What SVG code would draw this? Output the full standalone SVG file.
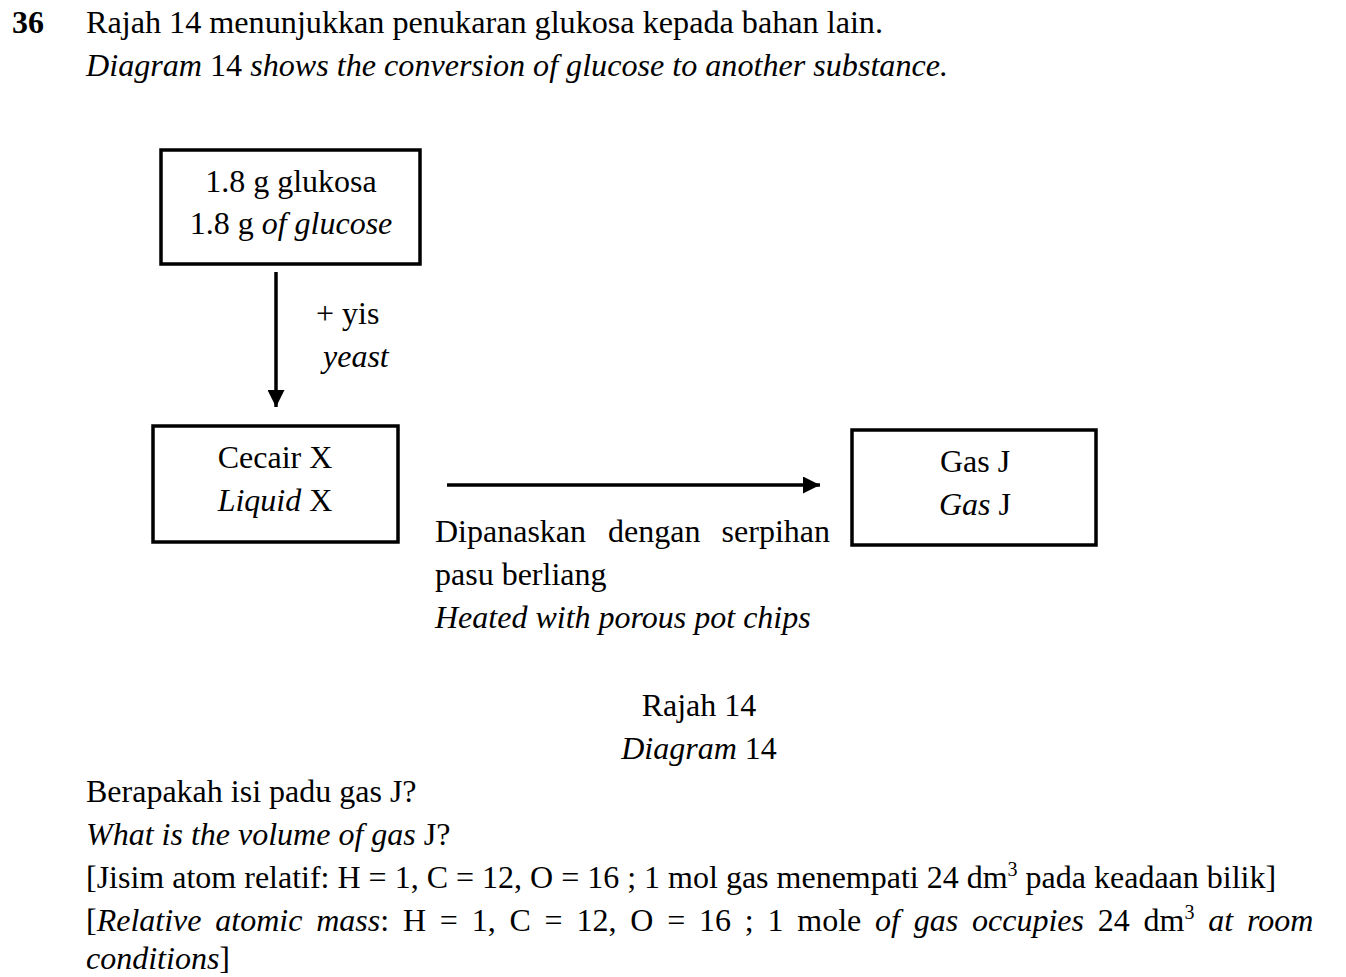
<svg xmlns="http://www.w3.org/2000/svg" width="1346" height="977" viewBox="0 0 1346 977">
<style>
text{font-family:"Liberation Serif","Times New Roman",serif;font-size:32px;fill:#000}
.i{font-style:italic}
.b{font-weight:bold}
.c{text-anchor:middle}
.box{fill:#fff;stroke:#000;stroke-width:3.5}
.conn{stroke:#000;stroke-width:3.5;fill:none}
</style>
<defs>
<marker id="ah" viewBox="0 0 10 10" refX="10" refY="5" markerUnits="userSpaceOnUse" markerWidth="17" markerHeight="17" orient="auto">
<path d="M0,0 L10,5 L0,10 z" fill="#000"/>
</marker>
</defs>
<rect width="1346" height="977" fill="#fff"/>
<g id="header">
<text x="12" y="33" class="b">36</text>
<text x="86" y="33" textLength="797" lengthAdjust="spacingAndGlyphs">Rajah 14 menunjukkan penukaran glukosa kepada bahan lain.</text>
<text x="86" y="76" textLength="862" lengthAdjust="spacingAndGlyphs"><tspan class="i">Diagram</tspan> 14 <tspan class="i">shows the conversion of glucose to another substance.</tspan></text>
</g>
<g id="connectors">
<line class="conn" x1="276" y1="272" x2="276" y2="407" marker-end="url(#ah)"/>
<line class="conn" x1="447" y1="485" x2="820" y2="485" marker-end="url(#ah)"/>
</g>
<g id="node-glucose">
<rect class="box" x="161" y="150" width="259" height="114"/>
<text x="291" y="192" class="c">1.8 g glukosa</text>
<text x="291" y="234" class="c">1.8 g <tspan class="i">of glucose</tspan></text>
</g>
<g id="label-yeast">
<text x="316" y="324">+ yis</text>
<text x="323" y="367" class="i">yeast</text>
</g>
<g id="node-liquid">
<rect class="box" x="153" y="426" width="245" height="116"/>
<text x="275" y="468" class="c">Cecair X</text>
<text x="275" y="511" class="c"><tspan class="i">Liquid</tspan> X</text>
</g>
<g id="label-heat">
<text x="435" y="542">Dipanaskan</text>
<text x="608" y="542">dengan</text>
<text x="830" y="542" style="text-anchor:end">serpihan</text>
<text x="435" y="585">pasu berliang</text>
<text x="435" y="628" class="i">Heated with porous pot chips</text>
</g>
<g id="node-gas">
<rect class="box" x="852" y="430" width="244" height="115"/>
<text x="975" y="472" class="c">Gas J</text>
<text x="975" y="515" class="c"><tspan class="i">Gas</tspan> J</text>
</g>
<g id="caption">
<text x="699" y="716" class="c">Rajah 14</text>
<text x="699" y="759" class="c"><tspan class="i">Diagram</tspan> 14</text>
</g>
<g id="question">
<text x="86" y="802">Berapakah isi padu gas J?</text>
<text x="86" y="845"><tspan class="i">What is the volume of gas</tspan> J?</text>
<text x="86" y="888">[Jisim atom relatif: H = 1, C = 12, O = 16 ; 1 mol gas menempati 24 dm<tspan font-size="20" dy="-12">3</tspan><tspan dy="12"> pada keadaan bilik]</tspan></text>
<text x="86" y="931" word-spacing="5.8">[<tspan class="i">Relative atomic mass</tspan>: H = 1, C = 12, O = 16 ; 1 mole <tspan class="i">of gas occupies</tspan> 24 dm<tspan font-size="20" dy="-12">3</tspan><tspan dy="12" class="i"> at room</tspan></text>
<text x="86" y="969" class="i">conditions<tspan font-style="normal">]</tspan></text>
</g>
</svg>
